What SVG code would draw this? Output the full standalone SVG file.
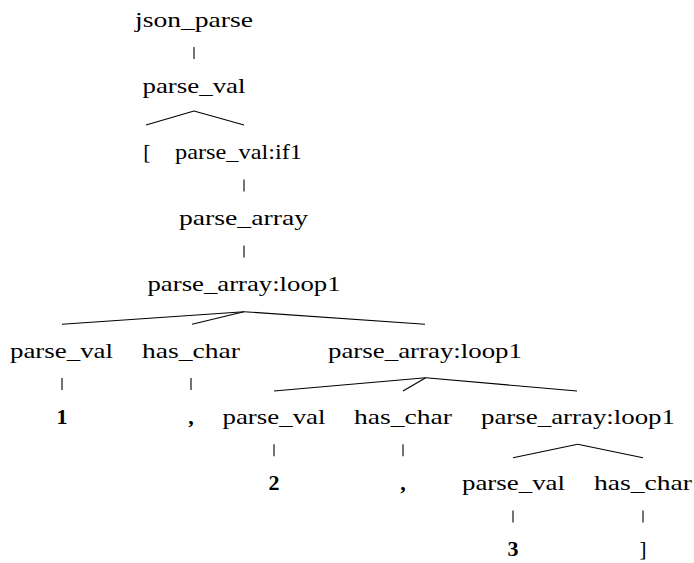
<svg xmlns="http://www.w3.org/2000/svg" width="694" height="563" viewBox="0 0 694 563">
<style>
text{font-family:"Liberation Serif","Times New Roman",serif;font-size:22px;fill:#000;text-anchor:middle}
.b{font-weight:bold}
.c line{stroke:#000;stroke-width:1.1;fill:none}
</style>
<rect width="694" height="563" fill="#fff"/>
<g class="c" id="connectors">
<line x1="194" y1="47" x2="194" y2="59"/>
<line x1="194" y1="111" x2="146" y2="125"/>
<line x1="194" y1="111" x2="244" y2="125"/>
<line x1="244" y1="179.4" x2="244" y2="191.4"/>
<line x1="244" y1="245.6" x2="244" y2="257.6"/>
<line x1="244" y1="311.7" x2="62" y2="324.3"/>
<line x1="244" y1="311.7" x2="192" y2="324.3"/>
<line x1="244" y1="311.7" x2="425" y2="324.3"/>
<line x1="62" y1="378" x2="62" y2="390"/>
<line x1="191" y1="378" x2="191" y2="390"/>
<line x1="425.7" y1="377.7" x2="274" y2="391"/>
<line x1="425.7" y1="377.7" x2="403" y2="391"/>
<line x1="425.7" y1="377.7" x2="577" y2="391"/>
<line x1="274" y1="444.2" x2="274" y2="456.2"/>
<line x1="403" y1="444.2" x2="403" y2="456.2"/>
<line x1="577.7" y1="444.3" x2="513" y2="457.7"/>
<line x1="577.7" y1="444.3" x2="643" y2="457.7"/>
<line x1="513" y1="510.4" x2="513" y2="522.4"/>
<line x1="643" y1="510.4" x2="643" y2="522.4"/>
</g>
<g id="n0"><text x="194" y="26.5" textLength="118" lengthAdjust="spacingAndGlyphs">json_parse</text></g>
<g id="n1"><text x="194" y="92.7" textLength="103" lengthAdjust="spacingAndGlyphs">parse_val</text></g>
<g id="n2"><text x="147" y="158.9">[</text></g>
<g id="n3"><text x="238.5" y="158.9" textLength="127" lengthAdjust="spacingAndGlyphs">parse_val:if1</text></g>
<g id="n4"><text x="243.5" y="225.1" textLength="129" lengthAdjust="spacingAndGlyphs">parse_array</text></g>
<g id="n5"><text x="244" y="291.3" textLength="193" lengthAdjust="spacingAndGlyphs">parse_array:loop1</text></g>
<g id="n6"><text x="61.5" y="357.5" textLength="103" lengthAdjust="spacingAndGlyphs">parse_val</text></g>
<g id="n7"><text x="191" y="357.5" textLength="98" lengthAdjust="spacingAndGlyphs">has_char</text></g>
<g id="n8"><text x="425" y="357.5" textLength="194" lengthAdjust="spacingAndGlyphs">parse_array:loop1</text></g>
<g id="n9"><text class="b" x="62" y="423.7">1</text></g>
<g id="n10"><text class="b" x="191" y="423.7">,</text></g>
<g id="n11"><text x="274" y="423.7" textLength="103" lengthAdjust="spacingAndGlyphs">parse_val</text></g>
<g id="n12"><text x="403" y="423.7" textLength="98" lengthAdjust="spacingAndGlyphs">has_char</text></g>
<g id="n13"><text x="578" y="423.7" textLength="194" lengthAdjust="spacingAndGlyphs">parse_array:loop1</text></g>
<g id="n14"><text class="b" x="274" y="489.9">2</text></g>
<g id="n15"><text class="b" x="403" y="489.9">,</text></g>
<g id="n16"><text x="513.5" y="489.9" textLength="103" lengthAdjust="spacingAndGlyphs">parse_val</text></g>
<g id="n17"><text x="643" y="489.9" textLength="98" lengthAdjust="spacingAndGlyphs">has_char</text></g>
<g id="n18"><text class="b" x="513" y="556.1">3</text></g>
<g id="n19"><text x="643" y="556.1">]</text></g>
</svg>
